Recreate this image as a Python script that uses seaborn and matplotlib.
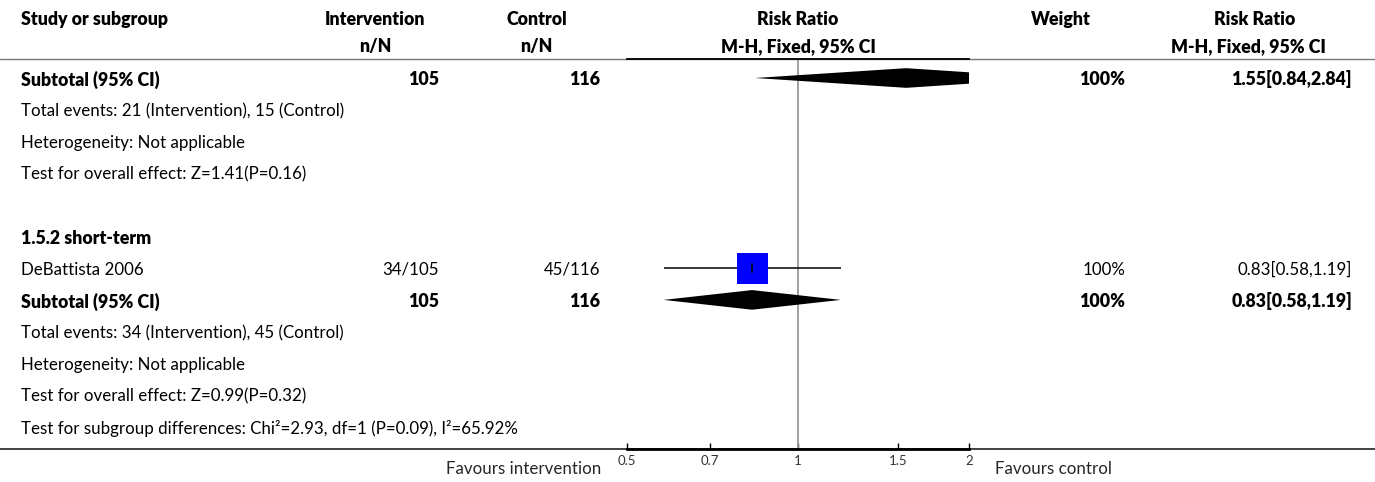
import matplotlib
matplotlib.use("Agg")
import matplotlib.pyplot as plt
from matplotlib.lines import Line2D
from matplotlib.transforms import blended_transform_factory
import seaborn as sns
import numpy as np
import pandas as pd

# ---------------- data ----------------
row_labels = [
    "Subtotal (95% CI)",
    "Total events: 21 (Intervention), 15 (Control)",
    "Heterogeneity: Not applicable",
    "Test for overall effect: Z=1.41(P=0.16)",
    "",
    "1.5.2 short-term",
    "DeBattista 2006",
    "Subtotal (95% CI)",
    "Total events: 34 (Intervention), 45 (Control)",
    "Heterogeneity: Not applicable",
    "Test for overall effect: Z=0.99(P=0.32)",
    "Test for subgroup differences: Chi\u00b2=2.93, df=1 (P=0.09), I\u00b2=65.92%",
]
row_bold = [True, False, False, False, False, True, False, True, False, False, False, False]
intervention_col = ["105", "", "", "", "", "", "34/105", "105", "", "", "", ""]
control_col = ["116", "", "", "", "", "", "45/116", "116", "", "", "", ""]
weight_col = ["100%", "", "", "", "", "", "100%", "100%", "", "", "", ""]
rr_col = ["1.55[0.84,2.84]", "", "", "", "", "", "0.83[0.58,1.19]", "0.83[0.58,1.19]", "", "", "", ""]

study_row = [6]
study_rr = [0.83]
study_lo = [0.58]
study_hi = [1.19]

subtotal_row = [0, 7]
subtotal_rr = [1.55, 0.83]
subtotal_lo = [0.84, 0.58]
subtotal_hi = [2.84, 1.19]

tick_values = [0.5, 0.7, 1, 1.5, 2]
tick_labels = ["0.5", "0.7", "1", "1.5", "2"]

# ---------------- style ----------------
sns.set_theme(style="white")
plt.rcParams["font.family"] = ["Lato", "DejaVu Sans"]
FS = 12.2
FSB = 12.8
BOLD = 800

W, H = 1375, 482
ROW0, ROWH = 78.0, 31.7          # pixel y of row 0, row spacing
TOP, BOT = 59.0, 449.0           # plot box top / bottom (pixels)
XL, XR = 627.0, 969.0            # plot box left / right (pixels)

fig = plt.figure(figsize=(W / 100, H / 100), dpi=100)
fig.patch.set_facecolor("white")

ax = fig.add_axes([XL / W, 1 - BOT / H, (XR - XL) / W, (BOT - TOP) / H])
ax.set_xscale("log")
ax.set_xlim(0.5, 2)
ax.set_ylim((BOT - ROW0) / ROWH, (TOP - ROW0) / ROWH)
ax.set_facecolor("none")
for s in ["left", "right"]:
    ax.spines[s].set_visible(False)
ax.spines["top"].set_linewidth(1.3)
ax.spines["top"].set_color("black")
ax.spines["bottom"].set_linewidth(2.0)
ax.spines["bottom"].set_color("black")
ax.set_yticks([])
ax.set_xticks(tick_values)
ax.set_xticklabels(tick_labels)
ax.xaxis.set_minor_locator(matplotlib.ticker.NullLocator())
ax.tick_params(axis="x", direction="in", length=4.5, width=1, color="black",
               labelsize=9.5, pad=4, labelcolor="#333333", bottom=True, top=False)

# reference line
ax.axvline(1, color="#999999", lw=1.3, zorder=1)

# study CI and square
ax.hlines(study_row, study_lo, study_hi, color="black", lw=1.1, zorder=2)
df_study = pd.DataFrame({"rr": study_rr, "row": study_row})
sns.scatterplot(data=df_study, x="rr", y="row", marker="s", s=500, color="#0000ff",
                edgecolor="none", ax=ax, zorder=3, legend=False)
ax.plot(study_rr, study_row, marker="|", ms=6.5, mew=1.1, color="black", ls="none", zorder=4)

# subtotal diamonds
dh = 0.31
for r, m, lo, hi in zip(subtotal_row, subtotal_rr, subtotal_lo, subtotal_hi):
    ax.fill([lo, m, hi, m], [r, r - dh, r, r + dh], color="black", lw=0, zorder=3)

ax.set_xlabel("")
ax.set_ylabel("")

# ---------------- table text ----------------
fx = lambda px: px / W
fy = lambda px: 1 - px / H
tr = blended_transform_factory(fig.transFigure, ax.transData)

cols = [(21, row_labels, "left"), (439, intervention_col, "right"),
        (600, control_col, "right"), (1125, weight_col, "right"),
        (1352, rr_col, "right")]
for i in range(len(row_labels)):
    w = BOLD if row_bold[i] else "normal"
    fs = FSB if row_bold[i] else FS
    for x, col, ha in cols:
        ax.text(fx(x), i, col[i], transform=tr, ha=ha, va="center_baseline",
                fontsize=fs, fontweight=w, clip_on=False, color="black")

# headers
hdr = [
    (21, 18, "Study or subgroup", "left"),
    (375, 18, "Intervention", "center"),
    (536.5, 18, "Control", "center"),
    (798, 18, "Risk Ratio", "center"),
    (1060.5, 18, "Weight", "center"),
    (1255, 18, "Risk Ratio", "center"),
    (375, 45, "n/N", "center"),
    (536.5, 45, "n/N", "center"),
    (798, 45, "M-H, Fixed, 95% CI", "center"),
    (1248.5, 45, "M-H, Fixed, 95% CI", "center"),
]
for x, y, t, ha in hdr:
    ax.text(fx(x), fy(y), t, transform=fig.transFigure, ha=ha, va="center_baseline",
            fontsize=FSB, fontweight=BOLD, color="black", clip_on=False)

# horizontal rules across the whole table
fig.add_artist(Line2D([0, 1], [fy(TOP), fy(TOP)], color="#777777", lw=1.0, zorder=0))
fig.add_artist(Line2D([0, 1], [fy(BOT), fy(BOT)], color="#333333", lw=1.3, zorder=0))

# favours labels
fig.text(fx(601), fy(467), "Favours intervention", ha="right", va="center_baseline", fontsize=FS)
fig.text(fx(995), fy(467), "Favours control", ha="left", va="center_baseline", fontsize=FS)

fig.savefig("out.png", dpi=100, facecolor="white")
